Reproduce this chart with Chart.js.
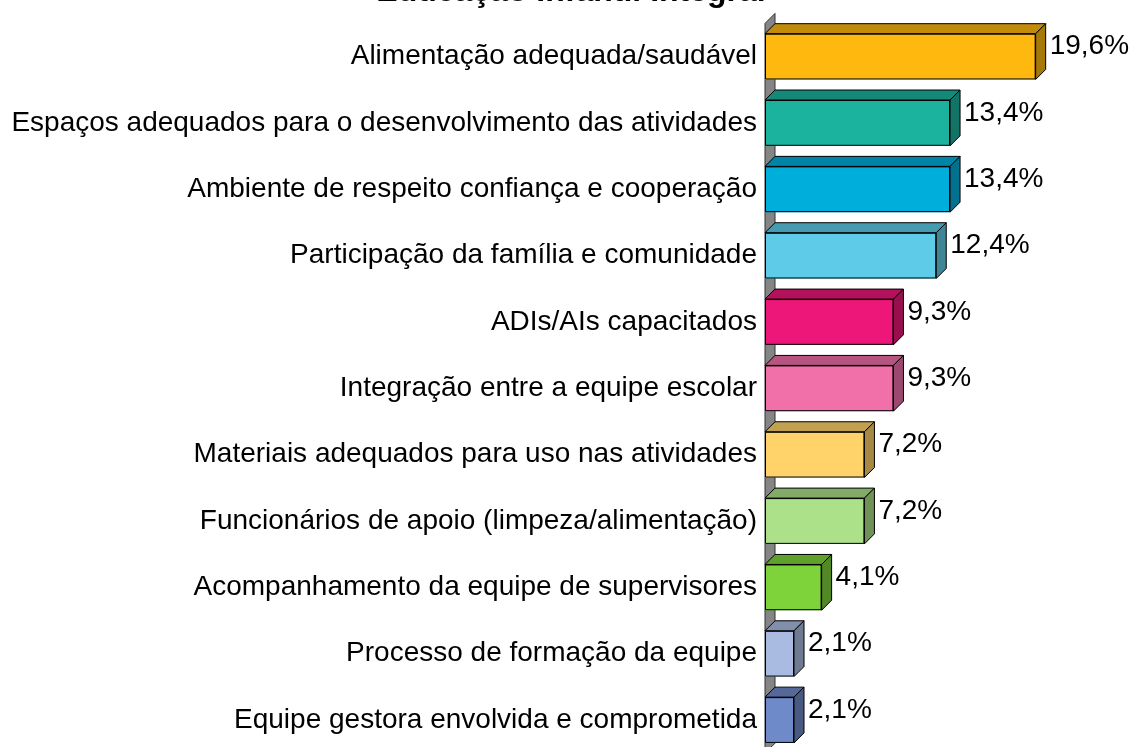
<!DOCTYPE html>
<html>
<head>
<meta charset="utf-8">
<script src="https://cdn.jsdelivr.net/npm/chart.js@4/dist/chart.umd.min.js"></script>
<style>
  html, body { margin: 0; padding: 0; background: #ffffff; overflow: hidden; width: 1133px; height: 747px; }
  #wrap { position: absolute; left: 0; top: -30px; width: 1151px; height: 800px; }
</style>
</head>
<body>
<div id="wrap"><canvas id="c" width="1151" height="800"></canvas></div>
<script>
const chartTitle = "Educação Infantil Integral";
const categories = [
  "Alimentação adequada/saudável",
  "Espaços adequados para o desenvolvimento das atividades",
  "Ambiente de respeito confiança e cooperação",
  "Participação da família e comunidade",
  "ADIs/AIs capacitados",
  "Integração entre a equipe escolar",
  "Materiais adequados para uso nas atividades",
  "Funcionários de apoio (limpeza/alimentação)",
  "Acompanhamento da equipe de supervisores",
  "Processo de formação da equipe",
  "Equipe gestora envolvida e comprometida"
];
const values = [19.6, 13.4, 13.4, 12.4, 9.3, 9.3, 7.2, 7.2, 4.1, 2.1, 2.1];
const barColors = [
  "#FFB80D", "#1BB39E", "#00AEDC", "#5ECCE8", "#EC1778", "#F170AA",
  "#FFD26A", "#ADE189", "#7ED23A", "#AABBE2", "#6E8AC8"
];

const DEPTH = 10;
const FONT = "'Liberation Sans', Arial, sans-serif";

function shade(hex, f) {
  const n = parseInt(hex.slice(1), 16);
  const r = Math.round(((n >> 16) & 255) * f);
  const g = Math.round(((n >> 8) & 255) * f);
  const b = Math.round((n & 255) * f);
  return "rgb(" + r + "," + g + "," + b + ")";
}

const wallPlugin = {
  id: "wall3d",
  beforeDatasetsDraw(chart) {
    const ctx = chart.ctx;
    const a = chart.chartArea;
    ctx.save();
    ctx.beginPath();
    ctx.moveTo(a.left, a.top);
    ctx.lineTo(a.left + DEPTH, a.top - DEPTH);
    ctx.lineTo(a.left + DEPTH, a.bottom - DEPTH);
    ctx.lineTo(a.left, a.bottom);
    ctx.closePath();
    ctx.fillStyle = "#858585";
    ctx.fill();
    ctx.strokeStyle = "#333333";
    ctx.lineWidth = 1;
    ctx.stroke();
    ctx.restore();
  }
};

const faces3dPlugin = {
  id: "faces3d",
  afterDatasetsDraw(chart) {
    const ctx = chart.ctx;
    const meta = chart.getDatasetMeta(0);
    ctx.save();
    ctx.lineWidth = 1;
    ctx.strokeStyle = "#000000";
    ctx.lineJoin = "round";
    meta.data.forEach((el, i) => {
      const p = el.getProps(["x", "y", "base", "height"], true);
      const x0 = p.base, x1 = p.x;
      const yT = p.y - p.height / 2, yB = p.y + p.height / 2;
      const col = barColors[i];
      // top face
      ctx.beginPath();
      ctx.moveTo(x0, yT);
      ctx.lineTo(x0 + DEPTH, yT - DEPTH);
      ctx.lineTo(x1 + DEPTH, yT - DEPTH);
      ctx.lineTo(x1, yT);
      ctx.closePath();
      ctx.fillStyle = shade(col, 0.76);
      ctx.fill();
      ctx.stroke();
      // side face
      ctx.beginPath();
      ctx.moveTo(x1, yT);
      ctx.lineTo(x1 + DEPTH, yT - DEPTH);
      ctx.lineTo(x1 + DEPTH, yB - DEPTH);
      ctx.lineTo(x1, yB);
      ctx.closePath();
      ctx.fillStyle = shade(col, 0.65);
      ctx.fill();
      ctx.stroke();
      // front outline
      ctx.strokeRect(Math.min(x0, x1) + 0.5, yT + 0.5, Math.abs(x1 - x0) - 1, p.height - 1);
      // value label
      ctx.fillStyle = "#000000";
      ctx.font = "28px " + FONT;
      ctx.textAlign = "left";
      ctx.textBaseline = "middle";
      ctx.fillText(values[i].toFixed(1).replace(".", ",") + "%", x1 + DEPTH + 4, p.y - DEPTH);
    });
    ctx.restore();
  }
};

new Chart(document.getElementById("c"), {
  type: "bar",
  data: {
    labels: categories,
    datasets: [{
      data: values,
      backgroundColor: barColors,
      borderWidth: 0,
      barPercentage: 0.69,
      categoryPercentage: 1.0
    }]
  },
  options: {
    indexAxis: "y",
    responsive: false,
    animation: false,
    devicePixelRatio: 1,
    layout: { padding: { left: 0, right: 9, top: 0, bottom: 5 } },
    plugins: {
      legend: { display: false },
      tooltip: { enabled: false },
      title: {
        display: true,
        text: chartTitle,
        color: "#000000",
        font: { family: FONT, size: 32, weight: "bold", lineHeight: 1.2 },
        padding: { top: 3, bottom: 12 }
      }
    },
    scales: {
      x: {
        display: false,
        min: 0,
        max: 27.3
      },
      y: {
        grid: { display: false },
        border: { display: false },
        ticks: {
          color: "#000000",
          font: { family: FONT, size: 28 },
          padding: 0
        },
        afterFit(scale) { scale.width = 765; }
      }
    }
  },
  plugins: [wallPlugin, faces3dPlugin]
});
</script>
</body>
</html>
